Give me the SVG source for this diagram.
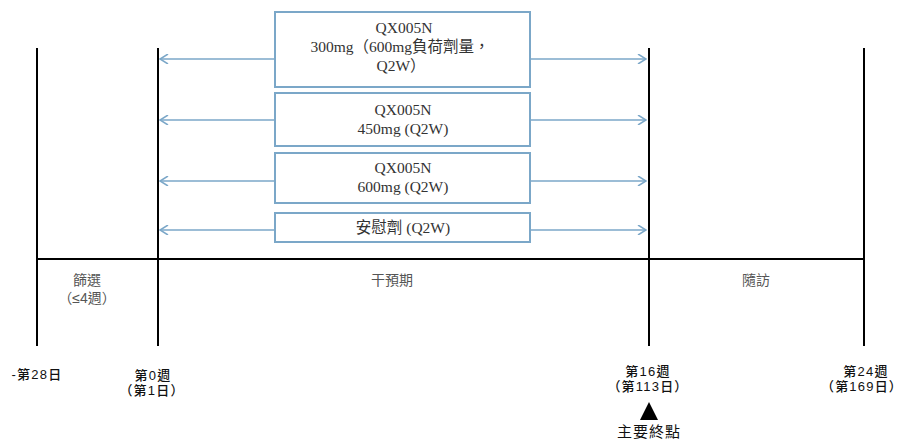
<svg xmlns="http://www.w3.org/2000/svg" width="902" height="447" viewBox="0 0 902 447">
<defs>
<marker id="ah" viewBox="0 0 10 10" refX="9" refY="5" markerWidth="10" markerHeight="10" markerUnits="userSpaceOnUse" orient="auto-start-reverse">
<path d="M1,0 L9,5 L1,10" fill="none" stroke="#7ba7c8" stroke-width="1.5"/>
</marker>
<style>
.box{fill:#fff;stroke:#7ba7c8;stroke-width:2}
.arr{stroke:#7ba7c8;stroke-width:1.5;fill:none}
.vl{stroke:#000;stroke-width:2;fill:none}
.bt{font-family:"Liberation Serif","Noto Sans CJK TC",serif;font-size:15.5px;fill:#333;text-anchor:middle}
.ph{font-family:"Liberation Sans","Noto Sans CJK TC",sans-serif;font-size:14px;fill:#555;text-anchor:middle}
.tl{font-family:"Liberation Sans","Noto Sans CJK TC",sans-serif;font-size:13px;font-weight:500;fill:#111;text-anchor:middle;letter-spacing:1.2px}
.ep{font-family:"Liberation Sans","Noto Sans CJK TC",sans-serif;font-size:15px;fill:#111;text-anchor:middle;letter-spacing:1px}
</style>
</defs>
<g id="timeline">
<line class="vl" x1="37" y1="48" x2="37" y2="346"/>
<line class="vl" x1="158" y1="48" x2="158" y2="346"/>
<line class="vl" x1="649" y1="48" x2="649" y2="346"/>
<line class="vl" x1="864" y1="48" x2="864" y2="346"/>
<line class="vl" x1="36" y1="259" x2="865" y2="259"/>
</g>
<g id="connectors">
<line class="arr" x1="275" y1="59" x2="160" y2="59" marker-end="url(#ah)"/>
<line class="arr" x1="530" y1="59" x2="646" y2="59" marker-end="url(#ah)"/>
<line class="arr" x1="275" y1="120" x2="160" y2="120" marker-end="url(#ah)"/>
<line class="arr" x1="530" y1="120" x2="646" y2="120" marker-end="url(#ah)"/>
<line class="arr" x1="275" y1="181" x2="160" y2="181" marker-end="url(#ah)"/>
<line class="arr" x1="530" y1="181" x2="646" y2="181" marker-end="url(#ah)"/>
<line class="arr" x1="275" y1="230" x2="160" y2="230" marker-end="url(#ah)"/>
<line class="arr" x1="530" y1="230" x2="646" y2="230" marker-end="url(#ah)"/>
</g>
<g id="box1">
<rect class="box" x="275" y="12" width="255" height="75"/>
<text class="bt" x="404" y="33">QX005N</text>
<text class="bt" x="400" y="52">300mg（600mg負荷劑量，</text>
<text class="bt" x="401" y="71">Q2W）</text>
</g>
<g id="box2">
<rect class="box" x="275" y="93" width="255" height="53"/>
<text class="bt" x="403" y="115">QX005N</text>
<text class="bt" x="403" y="134">450mg (Q2W)</text>
</g>
<g id="box3">
<rect class="box" x="275" y="153" width="255" height="50"/>
<text class="bt" x="403" y="173">QX005N</text>
<text class="bt" x="403" y="192">600mg (Q2W)</text>
</g>
<g id="box4">
<rect class="box" x="275" y="213" width="255" height="29"/>
<text class="bt" x="403" y="233">安慰劑 (Q2W)</text>
</g>
<g id="phases">
<text class="ph" x="87" y="285">篩選</text>
<text class="ph" x="87" y="303">（≤4週）</text>
<text class="ph" x="392" y="285">干預期</text>
<text class="ph" x="756" y="285">隨訪</text>
</g>
<g id="times">
<text class="tl" x="37" y="379">-第28日</text>
<text class="tl" x="153" y="380">第0週</text>
<text class="tl" x="152" y="395">（第1日）</text>
<text class="tl" x="648" y="376">第16週</text>
<text class="tl" x="648" y="391">（第113日）</text>
<text class="tl" x="866" y="376">第24週</text>
<text class="tl" x="862" y="391">（第169日）</text>
</g>
<g id="endpoint">
<polygon points="649,402 640,420 658,420" fill="#000"/>
<text class="ep" x="649" y="437">主要終點</text>
</g>
</svg>
